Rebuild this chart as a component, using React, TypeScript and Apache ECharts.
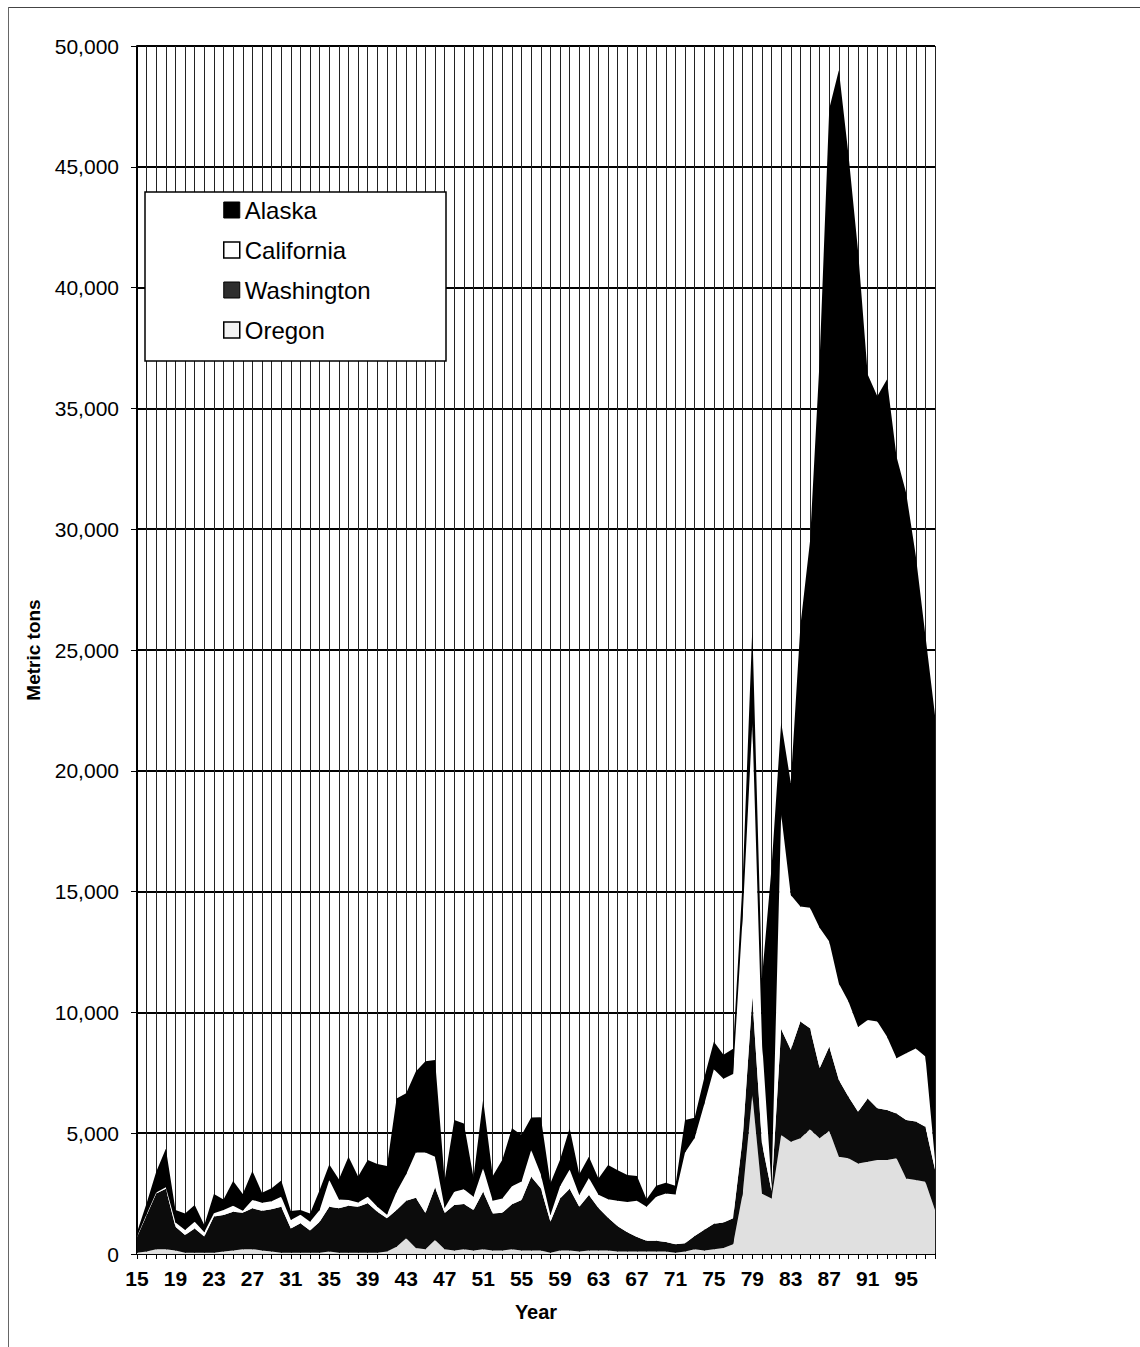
import React, { useEffect, useRef } from "react";
import * as echarts from "echarts";

const years: string[] = Array.from({ length: 84 }, (_, i) => String(1915 + i));

const oregon = [
  50, 100, 200, 200, 150, 50, 50, 50, 50, 100,
  150, 200, 200, 150, 100, 50, 50, 50, 50, 50,
  100, 50, 50, 50, 50, 50, 100, 300, 650, 250,
  200, 580, 200, 150, 200, 150, 200, 150, 150, 200,
  150, 150, 150, 50, 150, 150, 100, 150, 150, 150,
  100, 100, 100, 100, 100, 100, 50, 100, 200, 150,
  200, 250, 400, 2500, 6600, 2500, 2300, 4930, 4650, 4790,
  5160, 4790, 5100, 4030, 3960, 3750, 3820, 3890, 3890, 3960,
  3130, 3060, 2990, 1820,
];

const washington = [
  650, 1500, 2300, 2500, 980, 740, 1010, 670, 1500, 1510,
  1600, 1510, 1690, 1640, 1750, 1910, 1010, 1220, 920, 1290,
  1860, 1840, 1950, 1910, 2050, 1700, 1380, 1520, 1550, 2080,
  1500, 2170, 1500, 1880, 1870, 1670, 2380, 1530, 1560, 1860,
  2090, 3050, 2570, 1290, 2150, 2550, 1860, 2290, 1750, 1350,
  1050, 800, 600, 450, 450, 400, 350, 350, 550, 850,
  1050, 1050, 1080, 2300, 4000, 2080, 300, 4370, 3800, 4830,
  4180, 2900, 3480, 3170, 2550, 2140, 2620, 2140, 2070, 1860,
  2420, 2420, 2280, 1680,
];

const california = [
  20, 50, 50, 60, 170, 200, 280, 180, 140, 210,
  250, 80, 350, 330, 330, 410, 350, 350, 370, 480,
  1100, 370, 240, 170, 270, 210, 140, 760, 1100, 1870,
  2500, 1280, 200, 550, 610, 550, 970, 520, 590, 740,
  760, 1100, 580, 260, 500, 800, 480, 710, 550, 770,
  1050, 1250, 1500, 1410, 1820, 2000, 2060, 3750, 4050, 5200,
  6400, 5950, 5970, 9200, 11400, 4280, 200, 8900, 6410, 4760,
  4990, 5810, 4350, 4000, 3940, 3510, 3250, 3590, 3040, 2280,
  2760, 3030, 2900, 400,
];

const alaska = [
  180, 450, 850, 1600, 520, 690, 690, 300, 790, 440,
  1020, 690, 1200, 420, 540, 670, 370, 200, 340, 830,
  640, 830, 1790, 1080, 1520, 1770, 2020, 3860, 3350, 3350,
  3780, 4000, 1160, 2970, 2720, 800, 2830, 1030, 1600, 2400,
  1930, 1350, 2360, 1325, 1100, 1700, 860, 880, 680, 1410,
  1270, 1120, 1030, 310, 450, 450, 360, 1350, 840, 1100,
  1140, 1000, 1050, 1500, 3900, 2540, 13200, 3800, 4640, 11620,
  15170, 23500, 34470, 37800, 35050, 32100, 26710, 25880, 27200, 24900,
  23190, 20390, 17430, 18400,
];

const legendOrder = ["Alaska", "California", "Washington", "Oregon"];

const FONT = "'Liberation Sans', Arial, Helvetica, sans-serif";

function fmtThousands(v: number): string {
  return String(v).replace(/\B(?=(\d{3})+(?!\d))/g, ",");
}

export default function App() {
  const ref = useRef<HTMLDivElement>(null);

  useEffect(() => {
    if (!ref.current) return;
    const chart = echarts.init(ref.current, null, { renderer: "svg" });

    const areaSeries = (name: string, data: number[], color: string) => ({
      name,
      type: "line",
      stack: "total",
      data,
      symbol: "none",
      showSymbol: false,
      lineStyle: { width: 0, color },
      itemStyle: { color },
      areaStyle: { color, opacity: 1 },
      emphasis: { disabled: true },
      z: 2,
    });

    const legendStyles: Record<string, any> = {
      Alaska: { color: "#000", borderColor: "#000", borderWidth: 1 },
      California: { color: "#fff", borderColor: "#000", borderWidth: 1.5 },
      Washington: { color: "#2e2e2e", borderColor: "#000", borderWidth: 1 },
      Oregon: { color: "#f2f2f2", borderColor: "#000", borderWidth: 1.5 },
    };

    chart.setOption({
      animation: false,
      backgroundColor: "#ffffff",
      textStyle: { fontFamily: FONT, color: "#000" },
      grid: { left: 137, top: 46, width: 798, height: 1208, show: false },
      legend: {
        orient: "vertical",
        left: 145,
        top: 192,
        padding: [6, 0, 0, 78],
        icon: "rect",
        itemWidth: 16,
        itemHeight: 16,
        itemGap: 16,
        selectedMode: false,
        z: 5,
        textStyle: { fontSize: 24, color: "#000", fontFamily: FONT },
        data: legendOrder.map((name) => ({
          name,
          icon: "rect",
          itemStyle: legendStyles[name],
        })),
      },
      graphic: [
        {
          type: "line",
          z: 1,
          shape: { x1: 8, y1: 7.5, x2: 1140, y2: 7.5 },
          style: { stroke: "#444", lineWidth: 1 },
        },
        {
          type: "line",
          z: 1,
          shape: { x1: 8.5, y1: 7, x2: 8.5, y2: 1347 },
          style: { stroke: "#666", lineWidth: 1 },
        },
        {
          type: "rect",
          z: 3,
          shape: { x: 145, y: 192, width: 301, height: 169 },
          style: { fill: "#fff", stroke: "#000", lineWidth: 1.5 },
        },
      ],
      xAxis: {
        type: "category",
        data: years,
        boundaryGap: false,
        name: "Year",
        nameLocation: "middle",
        nameGap: 48,
        nameTextStyle: { fontSize: 20, fontWeight: "bold", color: "#000", fontFamily: FONT },
        axisLine: { show: true, onZero: false, lineStyle: { color: "#000", width: 2 } },
        axisTick: { show: true, interval: 0, length: 5, lineStyle: { color: "#000", width: 1 } },
        axisLabel: {
          interval: 3,
          formatter: (v: string) => v.slice(2),
          fontSize: 21,
          fontWeight: "bold",
          color: "#000",
          margin: 14,
          fontFamily: FONT,
        },
        splitLine: { show: true, interval: 0, lineStyle: { color: "#222", width: 1 } },
      },
      yAxis: {
        type: "value",
        min: 0,
        max: 50000,
        interval: 5000,
        name: "Metric tons",
        nameLocation: "middle",
        nameGap: 94,
        nameRotate: 90,
        nameTextStyle: { fontSize: 19, fontWeight: "bold", color: "#000", fontFamily: FONT },
        axisLine: { show: true, lineStyle: { color: "#000", width: 2 } },
        axisTick: { show: true, length: 6, lineStyle: { color: "#000", width: 1 } },
        axisLabel: {
          formatter: (v: number) => fmtThousands(v),
          fontSize: 21,
          color: "#000",
          margin: 18,
          fontFamily: FONT,
        },
        splitLine: { show: true, lineStyle: { color: "#000", width: 2 } },
      },
      series: [
        areaSeries("Oregon", oregon, "#e0e0e0"),
        areaSeries("Washington", washington, "#0c0c0c"),
        areaSeries("California", california, "#ffffff"),
        areaSeries("Alaska", alaska, "#000000"),
      ],
    });

    return () => chart.dispose();
  }, []);

  return (
    <div
      ref={ref}
      style={{ position: "absolute", left: 0, top: 0, width: 1140, height: 1347 }}
    />
  );
}
